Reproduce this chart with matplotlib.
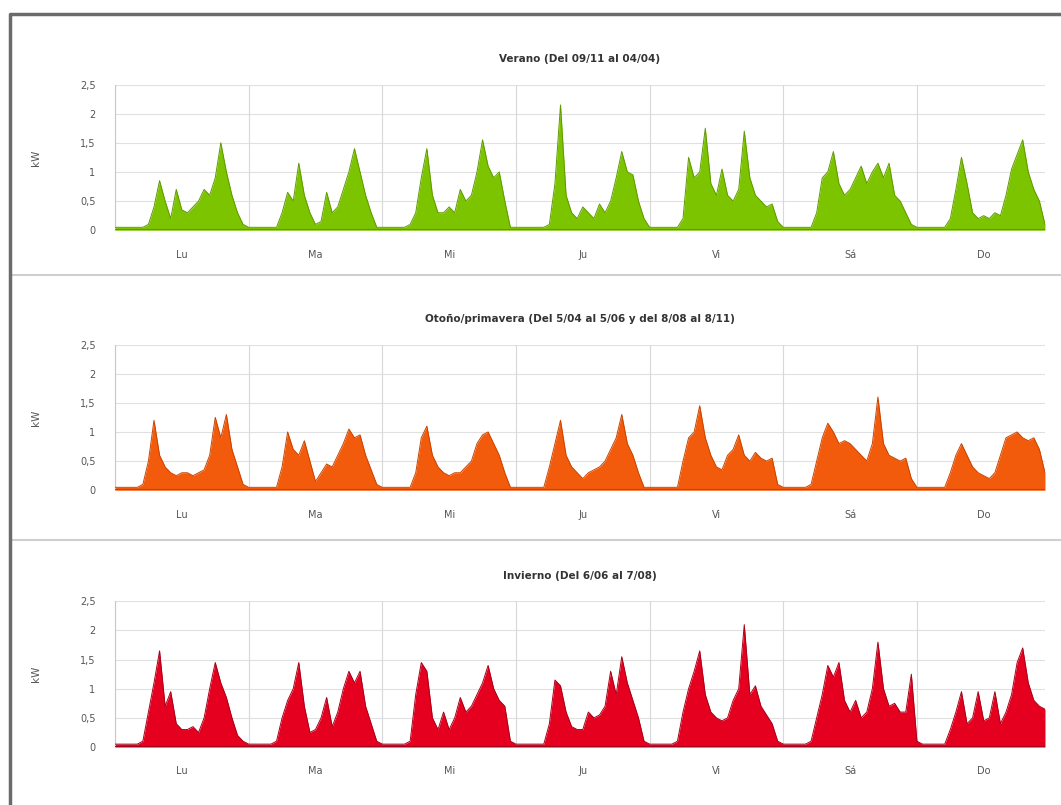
import numpy as np
import matplotlib.pyplot as plt
from matplotlib.lines import Line2D

# ─────────────────────────────────────────────────────────────────────────────
# Data: hourly load (kW), one list per day, Monday..Sunday
# ─────────────────────────────────────────────────────────────────────────────

days = ["Lu", "Ma", "Mi", "Ju", "Vi", "Sá", "Do"]
y_ticks = [0, 0.5, 1, 1.5, 2, 2.5]
y_tick_labels = ["0", "0,5", "1", "1,5", "2", "2,5"]

verano = [
    [0.05, 0.05, 0.05, 0.05, 0.05, 0.05, 0.1, 0.4, 0.85, 0.5, 0.2, 0.7, 0.35, 0.3, 0.4, 0.5, 0.7, 0.6, 0.9, 1.5, 1.0, 0.6, 0.3, 0.1],
    [0.05, 0.05, 0.05, 0.05, 0.05, 0.05, 0.3, 0.65, 0.5, 1.15, 0.6, 0.3, 0.1, 0.15, 0.65, 0.3, 0.4, 0.7, 1.0, 1.4, 1.0, 0.6, 0.3, 0.05],
    [0.05, 0.05, 0.05, 0.05, 0.05, 0.1, 0.3, 0.9, 1.4, 0.6, 0.3, 0.3, 0.4, 0.3, 0.7, 0.5, 0.6, 1.0, 1.55, 1.1, 0.9, 1.0, 0.5, 0.05],
    [0.05, 0.05, 0.05, 0.05, 0.05, 0.05, 0.1, 0.8, 2.15, 0.6, 0.3, 0.2, 0.4, 0.3, 0.2, 0.45, 0.3, 0.5, 0.9, 1.35, 1.0, 0.95, 0.5, 0.2],
    [0.05, 0.05, 0.05, 0.05, 0.05, 0.05, 0.2, 1.25, 0.9, 1.0, 1.75, 0.8, 0.6, 1.05, 0.6, 0.5, 0.7, 1.7, 0.9, 0.6, 0.5, 0.4, 0.45, 0.15],
    [0.05, 0.05, 0.05, 0.05, 0.05, 0.05, 0.3, 0.9, 1.0, 1.35, 0.8, 0.6, 0.7, 0.9, 1.1, 0.8, 1.0, 1.15, 0.9, 1.15, 0.6, 0.5, 0.3, 0.1],
    [0.05, 0.05, 0.05, 0.05, 0.05, 0.05, 0.2, 0.7, 1.25, 0.8, 0.3, 0.2, 0.25, 0.2, 0.3, 0.25, 0.6, 1.05, 1.3, 1.55, 1.0, 0.7, 0.5, 0.1],
]

otono_primavera = [
    [0.05, 0.05, 0.05, 0.05, 0.05, 0.1, 0.5, 1.2, 0.6, 0.4, 0.3, 0.25, 0.3, 0.3, 0.25, 0.3, 0.35, 0.6, 1.25, 0.9, 1.3, 0.7, 0.4, 0.1],
    [0.05, 0.05, 0.05, 0.05, 0.05, 0.05, 0.4, 1.0, 0.7, 0.6, 0.85, 0.5, 0.15, 0.3, 0.45, 0.4, 0.6, 0.8, 1.05, 0.9, 0.95, 0.6, 0.35, 0.1],
    [0.05, 0.05, 0.05, 0.05, 0.05, 0.05, 0.3, 0.9, 1.1, 0.6, 0.4, 0.3, 0.25, 0.3, 0.3, 0.4, 0.5, 0.8, 0.95, 1.0, 0.8, 0.6, 0.3, 0.05],
    [0.05, 0.05, 0.05, 0.05, 0.05, 0.05, 0.4, 0.8, 1.2, 0.6, 0.4, 0.3, 0.2, 0.3, 0.35, 0.4, 0.5, 0.7, 0.9, 1.3, 0.8, 0.6, 0.3, 0.05],
    [0.05, 0.05, 0.05, 0.05, 0.05, 0.05, 0.5, 0.9, 1.0, 1.45, 0.9, 0.6, 0.4, 0.35, 0.6, 0.7, 0.95, 0.6, 0.5, 0.65, 0.55, 0.5, 0.55, 0.1],
    [0.05, 0.05, 0.05, 0.05, 0.05, 0.1, 0.5, 0.9, 1.15, 1.0, 0.8, 0.85, 0.8, 0.7, 0.6, 0.5, 0.8, 1.6, 0.8, 0.6, 0.55, 0.5, 0.55, 0.2],
    [0.05, 0.05, 0.05, 0.05, 0.05, 0.05, 0.3, 0.6, 0.8, 0.6, 0.4, 0.3, 0.25, 0.2, 0.3, 0.6, 0.9, 0.95, 1.0, 0.9, 0.85, 0.9, 0.7, 0.3],
]

invierno = [
    [0.05, 0.05, 0.05, 0.05, 0.05, 0.1, 0.6, 1.1, 1.65, 0.7, 0.95, 0.4, 0.3, 0.3, 0.35, 0.25, 0.5, 1.0, 1.45, 1.1, 0.85, 0.5, 0.2, 0.1],
    [0.05, 0.05, 0.05, 0.05, 0.05, 0.1, 0.5, 0.8, 1.0, 1.45, 0.7, 0.25, 0.3, 0.5, 0.85, 0.35, 0.6, 1.0, 1.3, 1.1, 1.3, 0.7, 0.4, 0.1],
    [0.05, 0.05, 0.05, 0.05, 0.05, 0.1, 0.9, 1.45, 1.3, 0.5, 0.3, 0.6, 0.3, 0.5, 0.85, 0.6, 0.7, 0.9, 1.1, 1.4, 1.0, 0.8, 0.7, 0.1],
    [0.05, 0.05, 0.05, 0.05, 0.05, 0.05, 0.4, 1.15, 1.05, 0.6, 0.35, 0.3, 0.3, 0.6, 0.5, 0.55, 0.7, 1.3, 0.9, 1.55, 1.1, 0.8, 0.5, 0.1],
    [0.05, 0.05, 0.05, 0.05, 0.05, 0.1, 0.6, 1.0, 1.3, 1.65, 0.9, 0.6, 0.5, 0.45, 0.5, 0.8, 1.0, 2.1, 0.9, 1.05, 0.7, 0.55, 0.4, 0.1],
    [0.05, 0.05, 0.05, 0.05, 0.05, 0.1, 0.5, 0.9, 1.4, 1.2, 1.45, 0.8, 0.6, 0.8, 0.5, 0.6, 1.0, 1.8, 1.0, 0.7, 0.75, 0.6, 0.6, 1.25],
    [0.1, 0.05, 0.05, 0.05, 0.05, 0.05, 0.3, 0.6, 0.95, 0.4, 0.5, 0.95, 0.45, 0.5, 0.95, 0.4, 0.6, 0.9, 1.45, 1.7, 1.1, 0.8, 0.7, 0.65],
]

panels = [
    ("Verano (Del 09/11 al 04/04)", verano, "#7cc400", "#5e9a00"),
    ("Otoño/primavera (Del 5/04 al 5/06 y del 8/08 al 8/11)", otono_primavera, "#f25a0c", "#c84400"),
    ("Invierno (Del 6/06 al 7/08)", invierno, "#e4001e", "#a80018"),
]

# ─────────────────────────────────────────────────────────────────────────────
# Figure
# ─────────────────────────────────────────────────────────────────────────────

fig = plt.figure(figsize=(10.61, 8.05), dpi=100)
fig.patch.set_facecolor("white")

bottoms = [0.714, 0.391, 0.072]
left, width, height = 0.1084, 0.8765, 0.181

for (title, series, fill_col, line_col), bottom in zip(panels, bottoms):
    ax = fig.add_axes([left, bottom, width, height])
    values = np.concatenate([np.array(d) for d in series])
    hours = np.arange(len(values))

    ax.fill_between(hours, values, 0, color=fill_col, linewidth=0, zorder=2)
    ax.plot(hours, values, color=line_col, linewidth=0.7, zorder=3)
    ax.axhline(0, color=line_col, linewidth=1.5, zorder=4)

    ax.set_xlim(0, len(values) - 1)
    ax.set_ylim(0, 2.5)
    ax.set_yticks(y_ticks)
    ax.set_yticklabels(y_tick_labels)
    ax.set_xticks([24 * i + 12 for i in range(len(days))])
    ax.set_xticklabels(days)
    for xb in range(0, 24 * len(days) + 1, 24):
        ax.axvline(xb, color="#d8d8d8", linewidth=0.8, zorder=1)
    ax.yaxis.grid(True, color="#e0e0e0", linewidth=0.8, zorder=1)
    ax.set_axisbelow(True)

    ax.tick_params(axis="y", length=0, labelsize=7, colors="#555555", pad=14)
    ax.tick_params(axis="x", length=0, labelsize=7, colors="#555555", pad=14)
    for side in ["top", "right"]:
        ax.spines[side].set_visible(False)
    ax.spines["left"].set_color("#c8c8c8")
    ax.spines["bottom"].set_visible(False)

    ax.set_ylabel("kW", fontsize=7.5, color="#555555", labelpad=28)
    ax.set_title(title, fontsize=7.5, fontweight="bold", color="#333333", pad=16)

# panel separators and outer frame
for yy in [0.658, 0.329]:
    fig.add_artist(Line2D([0.012, 1.0], [yy, yy], color="#cfcfcf", linewidth=1.5))
fig.add_artist(Line2D([0.009, 0.009, 1.0], [0.0, 0.982, 0.982], color="#6b6b6b", linewidth=2.5))

plt.savefig("out.png", dpi=100)
